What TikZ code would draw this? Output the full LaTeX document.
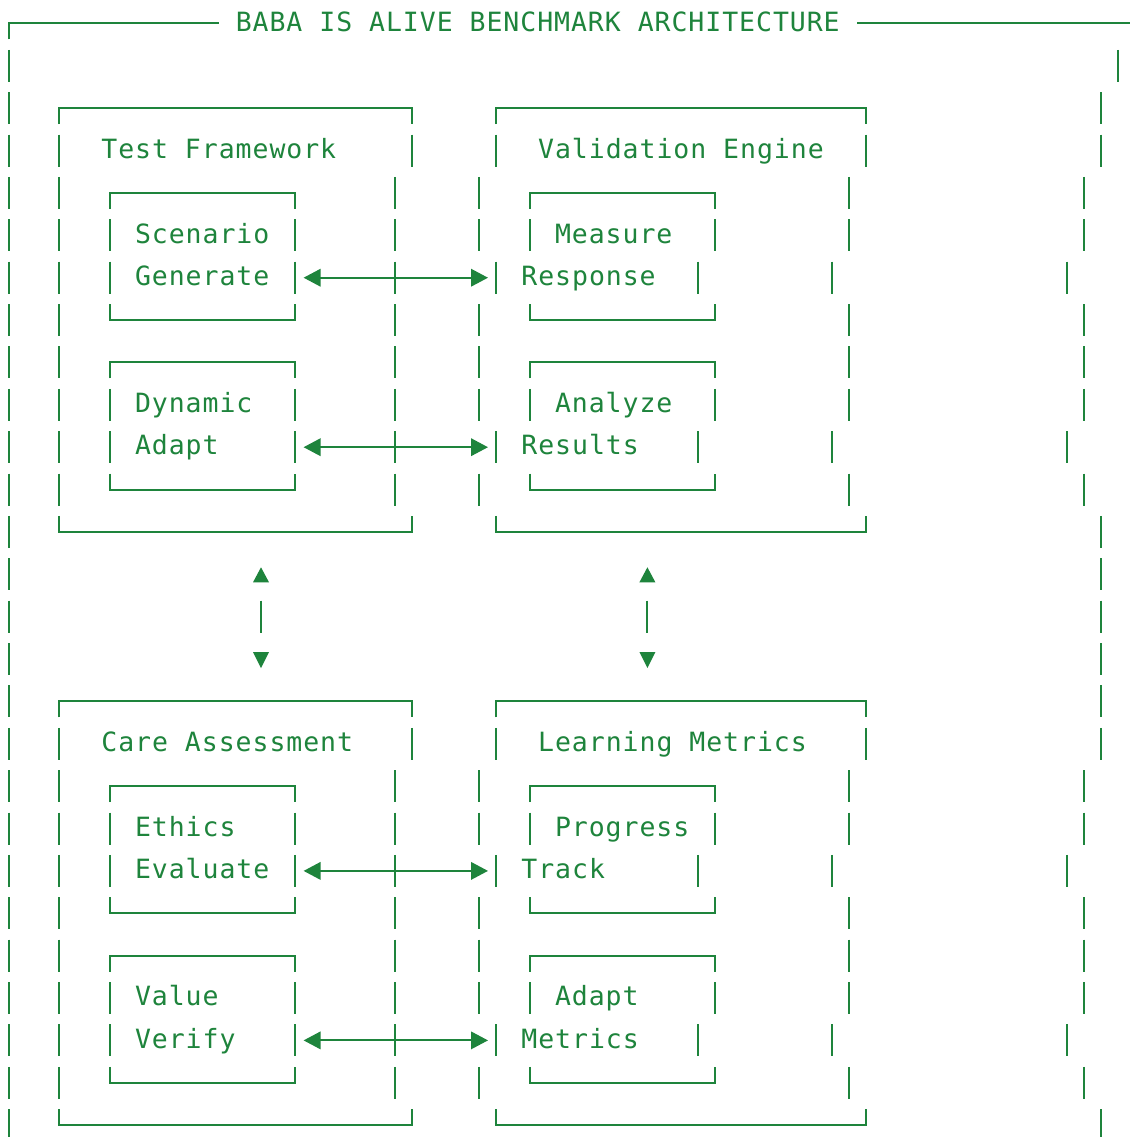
\documentclass[tikz,border=0pt]{standalone}
\usepackage{fontspec}
\newfontfamily\dmono[LetterSpace=3.6]{DejaVu Sans Mono}
\usetikzlibrary{arrows.meta}
\definecolor{asciigreen}{RGB}{30,132,60}
\tikzset{
  ln/.style={draw=asciigreen, line width=2pt, line cap=butt, line join=miter},
  txt/.style={text=asciigreen, font=\dmono\fontsize{26.5}{26.5}\selectfont, anchor=base west, inner sep=0pt, outer sep=0pt},
  biarrow/.style={ln, {Triangle[length=17pt,width=17.5pt]}-{Triangle[length=17pt,width=17.5pt]}},
}
% column centre x = 9 + 16.8 c ; row centre y = 23.5 + 42.37 r (y grows downward)
\newcommand\dVbar[2]{\draw[ln] ({9+16.8*(#1)},{23.5+42.37*(#2)-16}) -- ++(0,32);}
\newcommand\dTop[3]{\draw[ln] ({9+16.8*(#1)},{23.5+42.37*(#3)+16}) -- ({9+16.8*(#1)},{23.5+42.37*(#3)}) -- ({9+16.8*(#2)},{23.5+42.37*(#3)}) -- ({9+16.8*(#2)},{23.5+42.37*(#3)+16});}
\newcommand\dBot[3]{\draw[ln] ({9+16.8*(#1)},{23.5+42.37*(#3)-16}) -- ({9+16.8*(#1)},{23.5+42.37*(#3)}) -- ({9+16.8*(#2)},{23.5+42.37*(#3)}) -- ({9+16.8*(#2)},{23.5+42.37*(#3)-16});}
\newcommand\dText[4]{\node[txt] (#1) at ({0.6+16.8*(#2)},{23.5+42.37*(#3)+7.7}) {#4};}
\newcommand\dArrow[2]{\coordinate (#1l) at (303.6,{23.5+42.37*(#2)}); \coordinate (#1r) at (488,{23.5+42.37*(#2)}); \draw[biarrow] (#1l) -- (#1r);}
\newcommand\dUp[2]{\fill[asciigreen] ({9+16.8*(#1)-8},{23.5+42.37*(#2)+8}) -- ({9+16.8*(#1)+8},{23.5+42.37*(#2)+8}) -- ({9+16.8*(#1)},{23.5+42.37*(#2)-7}) -- cycle;}
\newcommand\dDown[2]{\fill[asciigreen] ({9+16.8*(#1)-8},{23.5+42.37*(#2)-7}) -- ({9+16.8*(#1)+8},{23.5+42.37*(#2)-7}) -- ({9+16.8*(#1)},{23.5+42.37*(#2)+9}) -- cycle;}
\begin{document}
\begin{tikzpicture}[x=1pt,y=-1pt]
\fill[white] (0,0) rectangle (1130,1137);
\useasboundingbox (0,0) rectangle (1130,1137);
% title row
\coordinate (tl) at (9,39.5);
\coordinate (tc) at (9,23.5);
\coordinate (ta) at (219,23.5);
\coordinate (tb) at (857.4,23.5);
\coordinate (te) at (1130,23.5);
\draw[ln] (tl) -- (tc) -- (ta);
\draw[ln] (tb) -- (te);
\dText{title}{14}{0}{BABA IS ALIVE BENCHMARK ARCHITECTURE}
% row 1
\dVbar{0}{1}
\dVbar{66}{1}
% two halves
\foreach \o in {0,14} {
  \dVbar{0}{2+\o}
  \dTop{3}{24}{2+\o}
  \dTop{29}{51}{2+\o}
  \dVbar{65}{2+\o}
  \foreach \c in {0,3,24,29,51,65} {\dVbar{\c}{3+\o}}
  \foreach \r in {4,8} {
    \foreach \c in {0,3,23,28,50,64} {\dVbar{\c}{\r+\o}}
    \dTop{6}{17}{\r+\o}
    \dTop{31}{42}{\r+\o}
  }
  \foreach \r in {5,9} {
    \foreach \c in {0,3,6,17,23,28,31,42,50,64} {\dVbar{\c}{\r+\o}}
  }
  \foreach \r in {6,10} {
    \foreach \c in {0,3,6,17,23,29,41,49,63} {\dVbar{\c}{\r+\o}}
  }
  \foreach \r in {7,11} {
    \foreach \c in {0,3,23,28,50,64} {\dVbar{\c}{\r+\o}}
    \dBot{6}{17}{\r+\o}
    \dBot{31}{42}{\r+\o}
  }
  \dVbar{0}{12+\o}
  \dBot{3}{24}{12+\o}
  \dBot{29}{51}{12+\o}
  \dVbar{65}{12+\o}
}
% horizontal two-way arrows
\dArrow{a1}{6}
\dArrow{a2}{10}
\dArrow{a3}{20}
\dArrow{a4}{24}
% vertical two-way arrows between halves
\dVbar{0}{13}
\dVbar{65}{13}
\dUp{15}{13}
\dUp{38}{13}
\foreach \c in {0,15,38,65} {\dVbar{\c}{14}}
\dVbar{0}{15}
\dVbar{65}{15}
\dDown{15}{15}
\dDown{38}{15}
% texts
\dText{tf}{6}{3}{Test Framework}
\dText{ve}{32}{3}{Validation Engine}
\dText{sc}{8}{5}{Scenario}
\dText{me}{33}{5}{Measure}
\dText{ge}{8}{6}{Generate}
\dText{re}{31}{6}{Response}
\dText{dy}{8}{9}{Dynamic}
\dText{an}{33}{9}{Analyze}
\dText{ad}{8}{10}{Adapt}
\dText{rs}{31}{10}{Results}
\dText{ca}{6}{17}{Care Assessment}
\dText{lm}{32}{17}{Learning Metrics}
\dText{et}{8}{19}{Ethics}
\dText{pr}{33}{19}{Progress}
\dText{ev}{8}{20}{Evaluate}
\dText{tr}{31}{20}{Track}
\dText{va}{8}{23}{Value}
\dText{am}{33}{23}{Adapt}
\dText{vf}{8}{24}{Verify}
\dText{mt}{31}{24}{Metrics}
\end{tikzpicture}
\end{document}
